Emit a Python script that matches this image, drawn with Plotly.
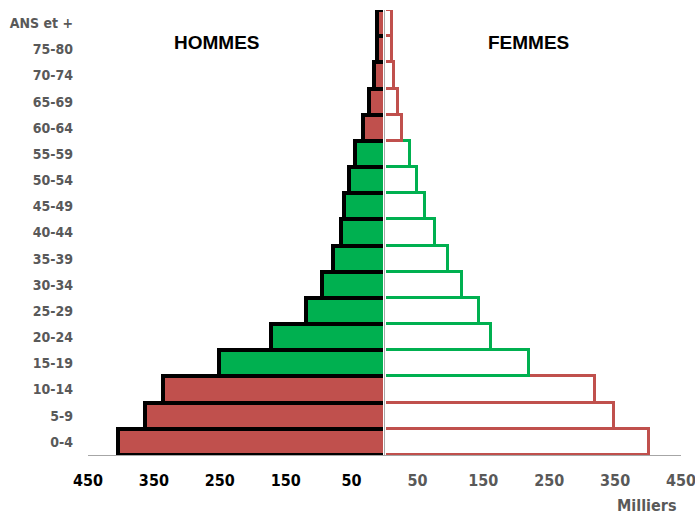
import plotly.graph_objects as go

# Age groups, bottom to top
categories = ["0-4", "5-9", "10-14", "15-19", "20-24", "25-29", "30-34", "35-39",
              "40-44", "45-49", "50-54", "55-59", "60-64", "65-69", "70-74",
              "75-80", "ANS et +"]
# Thousands
hommes = [404, 363, 336, 251, 172, 119, 95, 78, 66, 61, 54, 45, 33, 24, 16, 11, 11]
femmes = [401, 349, 319, 219, 162, 143, 117, 96, 77, 62, 49, 38, 27, 21, 14, 11, 11]

RED = "#C0504D"
GREEN = "#00B050"
GRAY = "#595959"
colors = [RED] * 3 + [GREEN] * 9 + [RED] * 5

tick_vals = [-450, -350, -250, -150, -50, 50, 150, 250, 350, 450]
tick_text = ["<span style='fill:#000000'>450</span>", "<span style='fill:#000000'>350</span>",
             "<span style='fill:#000000'>250</span>", "<span style='fill:#000000'>150</span>",
             "<span style='fill:#000000'>50</span>", "50", "150", "250", "350", "450"]

NARROW = "Liberation Sans Narrow, Arial Narrow, DejaVu Sans Condensed, sans-serif"

fig = go.Figure()
fig.add_trace(go.Bar(
    y=categories, x=[-v for v in hommes], orientation="h",
    marker=dict(color=colors, line=dict(color="#000000", width=4)),
    showlegend=False, hoverinfo="skip",
))
fig.add_trace(go.Bar(
    y=categories, x=femmes, orientation="h",
    marker=dict(color="#FFFFFF", line=dict(color=colors, width=3)),
    showlegend=False, hoverinfo="skip",
))

fig.add_shape(type="line", xref="x", yref="paper", x0=0, x1=0, y0=0, y1=1,
              line=dict(color="#FFFFFF", width=3), layer="above")
fig.add_shape(type="line", xref="x", yref="paper", x0=0, x1=0, y0=0, y1=1,
              line=dict(color="#A6A6A6", width=1), layer="above")

title_font = dict(family="Liberation Sans, Arial, sans-serif", size=19, color="#000000")
fig.add_annotation(text="<b>HOMMES</b>", xref="paper", yref="paper", x=0.218, y=0.926,
                   xanchor="center", yanchor="middle", showarrow=False, font=title_font)
fig.add_annotation(text="<b>FEMMES</b>", xref="paper", yref="paper", x=0.742, y=0.926,
                   xanchor="center", yanchor="middle", showarrow=False, font=title_font)
fig.add_annotation(text="<b>Milliers</b>", xref="paper", yref="paper", x=0.941, y=-0.113,
                   xanchor="center", yanchor="middle", showarrow=False,
                   font=dict(family=NARROW, size=16, color=GRAY))

fig.update_layout(
    width=695, height=516,
    margin=dict(l=88, r=14, t=10, b=61),
    paper_bgcolor="#FFFFFF", plot_bgcolor="#FFFFFF",
    barmode="overlay", bargap=0,
    xaxis=dict(range=[-450, 450], tickvals=tick_vals, ticktext=tick_text,
               showgrid=False, zeroline=False, showline=True, linecolor="#A6A6A6",
               linewidth=1, ticks="", ticklabelstandoff=11, automargin=False,
               ticklabeloverflow="allow",
               tickfont=dict(family=NARROW, size=16, color=GRAY, weight="bold")),
    yaxis=dict(type="category", categoryorder="array", categoryarray=categories,
               range=[-0.5, 16.5], showgrid=False, zeroline=False, showline=False,
               ticks="", ticklabelstandoff=14, automargin=False,
               tickfont=dict(family=NARROW, size=14, color=GRAY, weight="bold")),
)

fig.write_html("out.html", config={"displayModeBar": False},
               post_script="document.body.style.margin='0px';")
